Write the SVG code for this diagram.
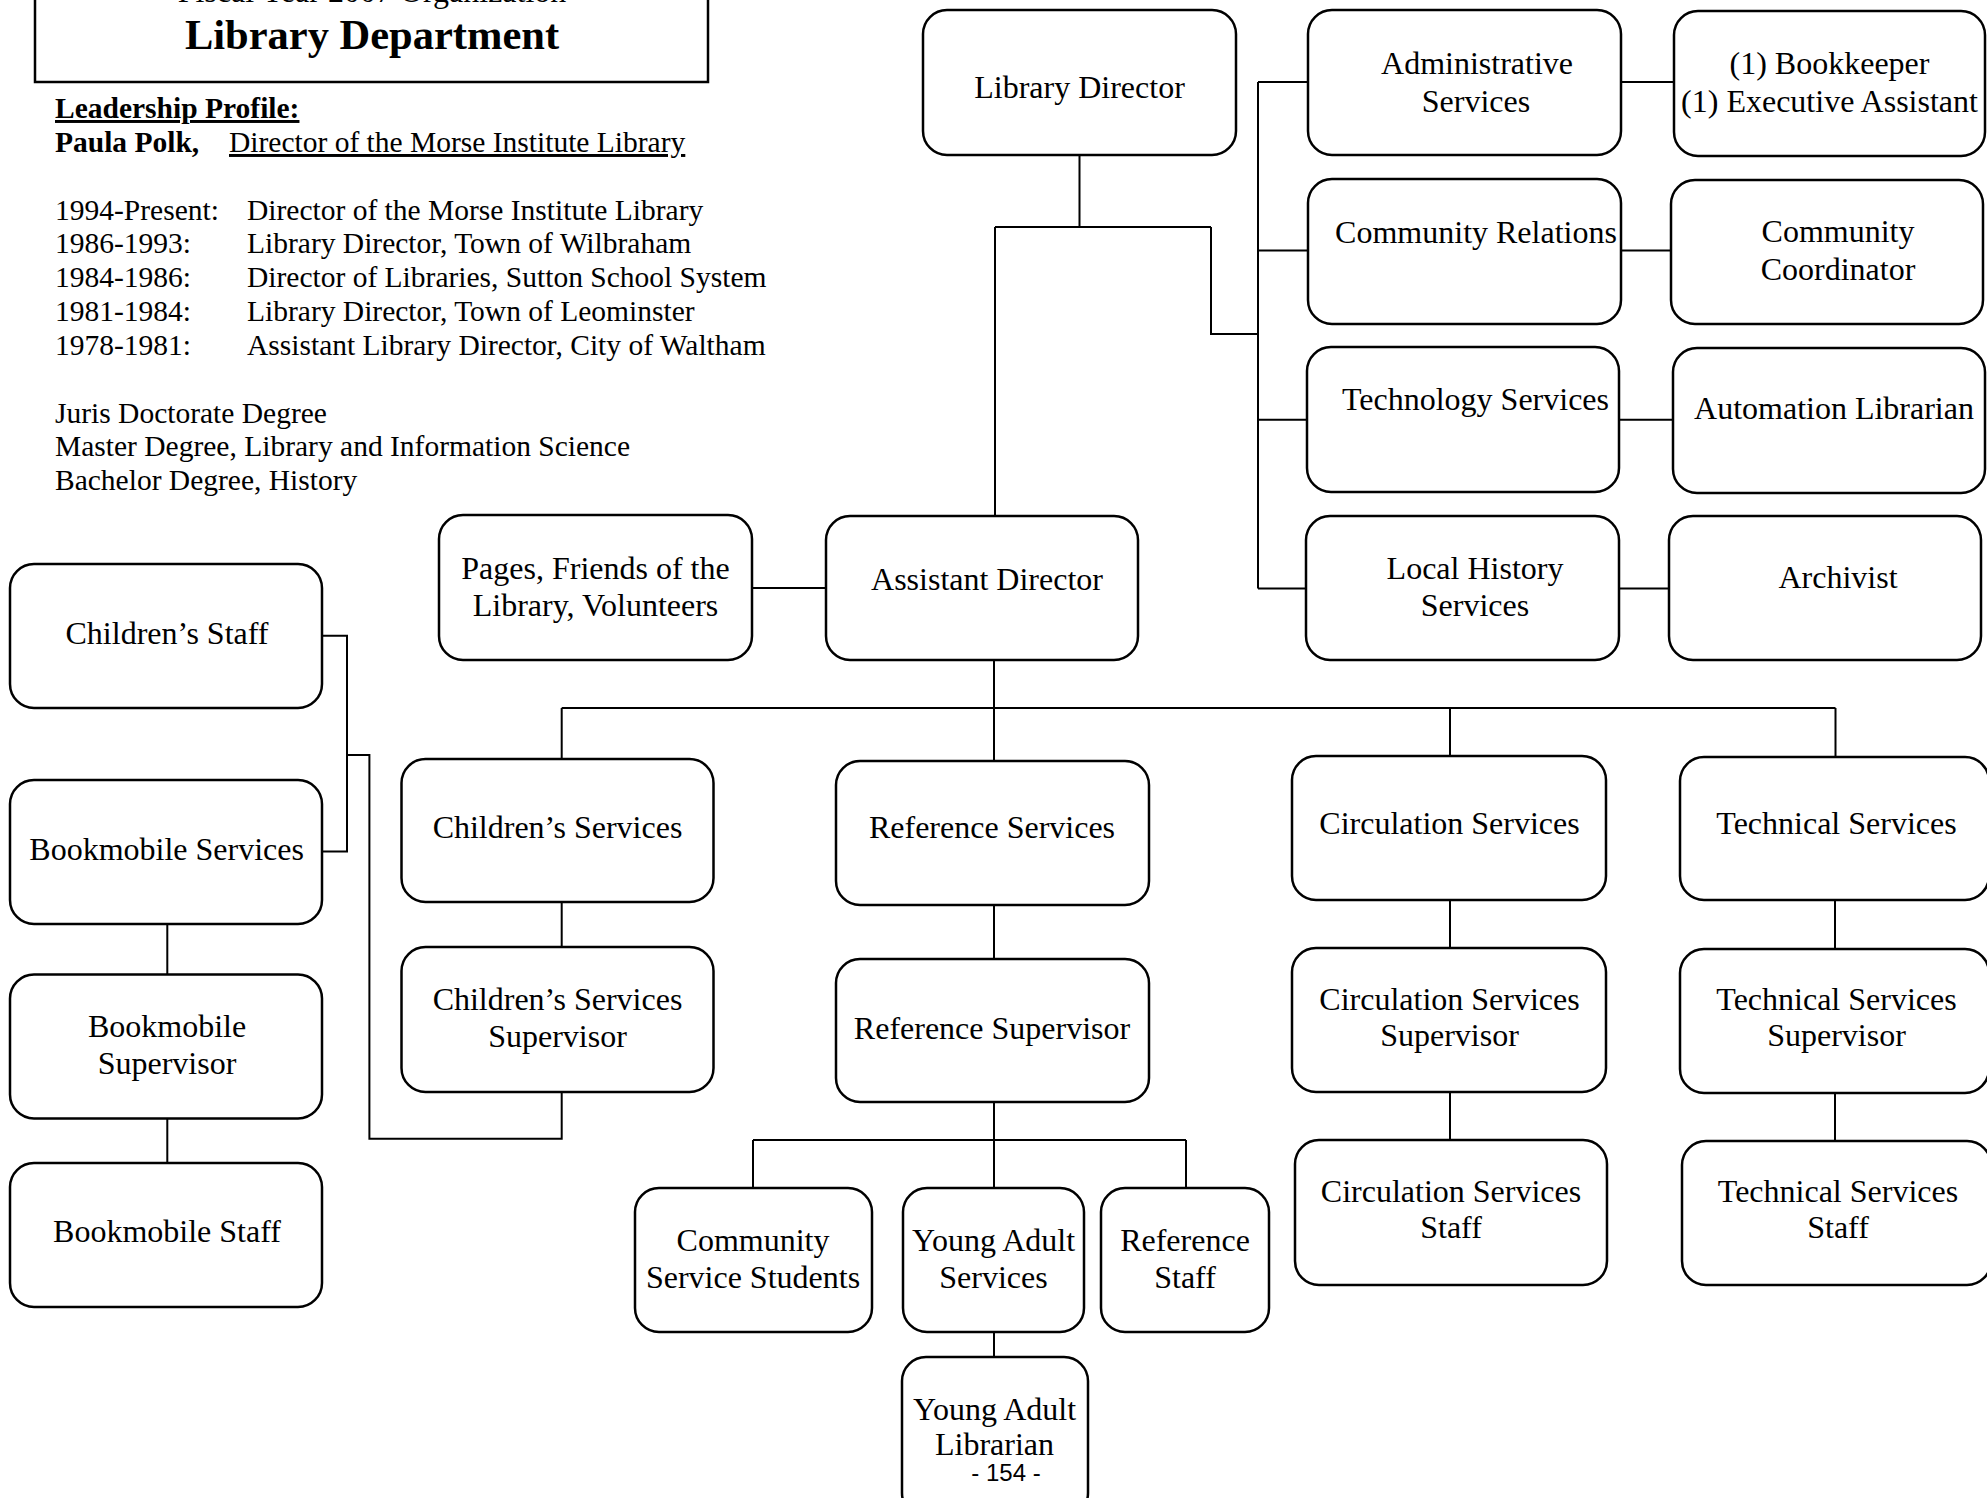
<svg xmlns="http://www.w3.org/2000/svg" width="1987" height="1498" viewBox="0 0 1987 1498">
<style>
.box{fill:#fff;stroke:#000;stroke-width:2.5}
.t{font-family:"Liberation Serif","Times New Roman",serif;font-size:32px;fill:#000;text-anchor:middle}
.b{font-family:"Liberation Serif","Times New Roman",serif;font-size:29.5px;fill:#000}
.ln{fill:none;stroke:#000;stroke-width:2}
</style>
<rect width="1987" height="1498" fill="#fff"/>
<g id="header">
<rect x="35" y="-10" width="673" height="92" fill="none" stroke="#000" stroke-width="2.5"/>
<text class="t" x="372" y="2">Fiscal Year 2007 Organization</text>
<text x="372" y="49" style="font-family:'Liberation Serif',serif;font-size:42.5px;font-weight:bold;text-anchor:middle">Library Department</text>
</g>
<g id="profile">
<text class="b" x="55" y="118" font-weight="bold" text-decoration="underline">Leadership Profile:</text>
<text class="b" x="55" y="152" font-weight="bold">Paula Polk,</text>
<text class="b" x="229" y="152" text-decoration="underline">Director of the Morse Institute Library</text>
<text class="b" x="55" y="220">1994-Present:</text><text class="b" x="247" y="220">Director of the Morse Institute Library</text>
<text class="b" x="55" y="253">1986-1993:</text><text class="b" x="247" y="253">Library Director, Town of Wilbraham</text>
<text class="b" x="55" y="287">1984-1986:</text><text class="b" x="247" y="287">Director of Libraries, Sutton School System</text>
<text class="b" x="55" y="321">1981-1984:</text><text class="b" x="247" y="321">Library Director, Town of Leominster</text>
<text class="b" x="55" y="355">1978-1981:</text><text class="b" x="247" y="355">Assistant Library Director, City of Waltham</text>
<text class="b" x="55" y="423">Juris Doctorate Degree</text>
<text class="b" x="55" y="456">Master Degree, Library and Information Science</text>
<text class="b" x="55" y="490">Bachelor Degree, History</text>
</g>
<g id="connectors" class="ln">
<path d="M1079.5 155V227M995 227H1211M995 227V516M1211 227V334H1258M1258 82V588.5M1258 82H1308M1258 250.6H1308M1258 419.8H1307M1258 588.5H1306"/>
<path d="M1621 82H1674M1621 250.6H1671M1619 419.8H1673M1619 588.5H1669"/>
<path d="M752 588H826"/>
<path d="M994 660V708M561.7 708H1835.5M561.7 708V759M994 708V761M1450 708V756M1835.5 708V757"/>
<path d="M561.7 902V947M994 905V959M994 1102V1188M753 1140H1186M753 1140V1188M1186 1140V1188M994 1332V1357"/>
<path d="M1450 900V948M1450 1092V1140M1835 900V949M1835 1092.5V1141"/>
<path d="M322 635.7H347V851.5H322M347 755H369.4V1138.8H561.7V1092"/>
<path d="M167.3 923.5V974.5M167.3 1118.4V1163"/>
</g>
<g id="n-library-director"><rect class="box" x="923" y="10" width="313" height="145" rx="24"/><text class="t" x="1079.5" y="97.6">Library Director</text></g>
<g id="n-admin"><rect class="box" x="1308" y="10" width="313" height="145" rx="24"/><text class="t" x="1477" y="73.7">Administrative</text><text class="t" x="1476" y="112">Services</text></g>
<g id="n-bookkeeper"><rect class="box" x="1674" y="11" width="311" height="145" rx="24"/><text class="t" x="1829.5" y="73.7">(1) Bookkeeper</text><text class="t" x="1829.5" y="112">(1) Executive Assistant</text></g>
<g id="n-community-relations"><rect class="box" x="1308" y="179" width="313" height="145" rx="24"/><text class="t" x="1476" y="243">Community Relations</text></g>
<g id="n-community-coordinator"><rect class="box" x="1671" y="180" width="312" height="144" rx="24"/><text class="t" x="1838" y="242">Community</text><text class="t" x="1838" y="280">Coordinator</text></g>
<g id="n-technology"><rect class="box" x="1307" y="347" width="312" height="145" rx="24"/><text class="t" x="1475.5" y="410">Technology Services</text></g>
<g id="n-automation"><rect class="box" x="1673" y="348" width="312" height="145" rx="24"/><text class="t" x="1834" y="418.5">Automation Librarian</text></g>
<g id="n-local-history"><rect class="box" x="1306" y="516" width="313" height="144" rx="24"/><text class="t" x="1475" y="579">Local History</text><text class="t" x="1475" y="616">Services</text></g>
<g id="n-archivist"><rect class="box" x="1669" y="516" width="312" height="144" rx="24"/><text class="t" x="1838" y="587.6">Archivist</text></g>
<g id="n-assistant-director"><rect class="box" x="826" y="516" width="312" height="144" rx="24"/><text class="t" x="987" y="590">Assistant Director</text></g>
<g id="n-pages"><rect class="box" x="439" y="515" width="313" height="145" rx="24"/><text class="t" x="595.5" y="579">Pages, Friends of the</text><text class="t" x="595.5" y="616">Library, Volunteers</text></g>
<g id="n-childrens-staff"><rect class="box" x="10" y="564" width="312" height="144" rx="24"/><text class="t" x="167" y="644">Children’s Staff</text></g>
<g id="n-bookmobile-services"><rect class="box" x="10" y="780" width="312" height="144" rx="24"/><text class="t" x="166.6" y="859.7">Bookmobile Services</text></g>
<g id="n-bookmobile-supervisor"><rect class="box" x="10" y="974.5" width="312" height="144" rx="24"/><text class="t" x="167" y="1037">Bookmobile</text><text class="t" x="167" y="1074">Supervisor</text></g>
<g id="n-bookmobile-staff"><rect class="box" x="10" y="1163" width="312" height="144" rx="24"/><text class="t" x="167" y="1242">Bookmobile Staff</text></g>
<g id="n-childrens-services"><rect class="box" x="401.5" y="759" width="312" height="143" rx="24"/><text class="t" x="557.5" y="837.8">Children’s Services</text></g>
<g id="n-childrens-supervisor"><rect class="box" x="401.5" y="947" width="312" height="145" rx="24"/><text class="t" x="557.5" y="1010">Children’s Services</text><text class="t" x="557.5" y="1047">Supervisor</text></g>
<g id="n-reference-services"><rect class="box" x="836" y="761" width="313" height="144" rx="24"/><text class="t" x="992" y="838">Reference Services</text></g>
<g id="n-reference-supervisor"><rect class="box" x="836" y="959" width="313" height="143" rx="24"/><text class="t" x="992" y="1039">Reference Supervisor</text></g>
<g id="n-community-service-students"><rect class="box" x="635" y="1188" width="237" height="144" rx="24"/><text class="t" x="753" y="1251">Community</text><text class="t" x="753" y="1288">Service Students</text></g>
<g id="n-young-adult-services"><rect class="box" x="903" y="1188" width="181" height="144" rx="24"/><text class="t" x="993.5" y="1251">Young Adult</text><text class="t" x="993.5" y="1288">Services</text></g>
<g id="n-reference-staff"><rect class="box" x="1101" y="1188" width="168" height="144" rx="24"/><text class="t" x="1185" y="1251">Reference</text><text class="t" x="1185" y="1288">Staff</text></g>
<g id="n-young-adult-librarian"><rect class="box" x="902" y="1357" width="186" height="160" rx="24"/><text class="t" x="994.5" y="1420">Young Adult</text><text class="t" x="994.5" y="1455">Librarian</text><text x="1006" y="1481" style="font-family:'Liberation Sans',Arial,sans-serif;font-size:24px;text-anchor:middle">- 154 -</text></g>
<g id="n-circulation-services"><rect class="box" x="1292" y="756" width="314" height="144" rx="24"/><text class="t" x="1449.5" y="834">Circulation Services</text></g>
<g id="n-circulation-supervisor"><rect class="box" x="1292" y="948" width="314" height="144" rx="24"/><text class="t" x="1449.5" y="1009.6">Circulation Services</text><text class="t" x="1449.5" y="1046">Supervisor</text></g>
<g id="n-circulation-staff"><rect class="box" x="1295" y="1140" width="312" height="145" rx="24"/><text class="t" x="1451" y="1201.6">Circulation Services</text><text class="t" x="1451" y="1237.6">Staff</text></g>
<g id="n-technical-services"><rect class="box" x="1680" y="757" width="309" height="143" rx="24"/><text class="t" x="1836.5" y="834">Technical Services</text></g>
<g id="n-technical-supervisor"><rect class="box" x="1680" y="949" width="309" height="144" rx="24"/><text class="t" x="1836.5" y="1009.6">Technical Services</text><text class="t" x="1836.5" y="1046">Supervisor</text></g>
<g id="n-technical-staff"><rect class="box" x="1682" y="1141" width="309" height="144" rx="24"/><text class="t" x="1838" y="1201.6">Technical Services</text><text class="t" x="1838" y="1237.6">Staff</text></g>
</svg>
